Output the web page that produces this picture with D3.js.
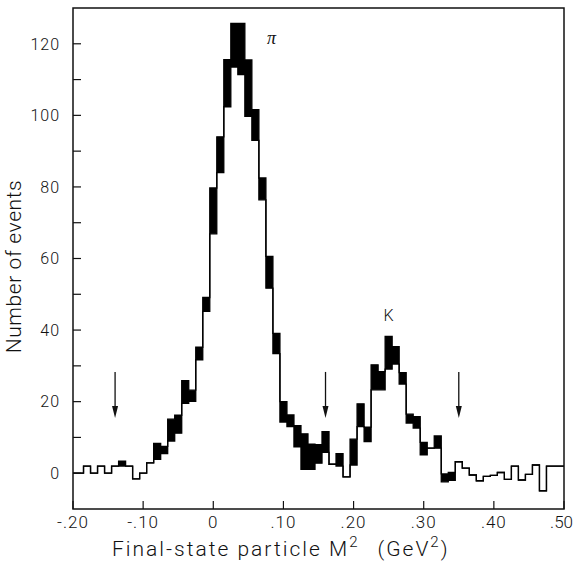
<!DOCTYPE html>
<html>
<head>
<meta charset="utf-8">
<script src="https://cdn.jsdelivr.net/npm/d3@7/dist/d3.min.js"></script>
<style>
  body { margin: 0; background: #fff; }
  text { font-family: Roboto, "Liberation Sans", sans-serif; font-weight: 300; fill: #111; }
</style>
</head>
<body>
<div id="chart"></div>
<script>
// bin centres (GeV^2), one per 0.01 bin
const binCenters = [-0.20, -0.19, -0.18, -0.17, -0.16, -0.15, -0.14, -0.13, -0.12, -0.11,
  -0.10, -0.09, -0.08, -0.07, -0.06, -0.05, -0.04, -0.03, -0.02, -0.01,
  0.00, 0.01, 0.02, 0.03, 0.04, 0.05, 0.06, 0.07, 0.08, 0.09,
  0.10, 0.11, 0.12, 0.13, 0.14, 0.15, 0.16, 0.17, 0.18, 0.19,
  0.20, 0.21, 0.22, 0.23, 0.24, 0.25, 0.26, 0.27, 0.28, 0.29,
  0.30, 0.31, 0.32, 0.33, 0.34, 0.35, 0.36, 0.37, 0.38, 0.39,
  0.40, 0.41, 0.42, 0.43, 0.44, 0.45, 0.46, 0.47, 0.48, 0.49, 0.50];

// lower histogram
const lowCounts = [0, 0, 2, 0, 2, 0, 2, 2, 2, -1.6,
  0, 2.9, 3.9, 5.5, 9, 11.2, 19.5, 20.1, 31.7, 45.2,
  66.9, 84, 102.4, 113.5, 111.4, 99.7, 93, 76.4, 51.7, 33.4,
  14.3, 13, 7.4, 1.1, 1.1, 2.8, 5.8, 2.5, 2, -1,
  2.3, 13, 8.8, 23.3, 23.3, 29.1, 30.5, 24.9, 14, 12.6,
  5.1, 7, 7, -2.4, -2, 3.2, 1.4, -0.5, -2.1, -0.9,
  -0.6, 0.2, -1.7, 2, -1.9, -0.3, 2.3, -4.9, 2, 2, 2];

// upper histogram
const highCounts = [0, 0, 2, 0, 2, 0, 2, 3.4, 2, -1.6,
  0, 2.9, 8.3, 7.5, 15.1, 16.2, 25.9, 23.2, 35.2, 49.1,
  79.7, 94, 115.6, 125.7, 125.7, 115.5, 101.6, 82.5, 60.6, 39.1,
  20, 16.3, 13.3, 11, 8.1, 8, 11.6, 2.5, 5.5, -1,
  9.5, 19.4, 12.9, 30.3, 28.4, 38.2, 35.4, 28.1, 16.5, 15.8,
  8.6, 7, 10.4, -0.2, 0.2, 3.2, 1.4, -0.5, -2.1, -0.9,
  -0.6, 0.2, -1.7, 2, -1.9, -0.3, 2.3, -4.9, 2, 2, 2];

const xTickValues = [-0.20, -0.10, 0.00, 0.10, 0.20, 0.30, 0.40, 0.50];
const xTickLabels = ["-.20", "-.10", "0", ".10", ".20", ".30", ".40", ".50"];
const yTickValues = [0, 20, 40, 60, 80, 100, 120];
const yMinorTicks = [10, 30, 50, 70, 90, 110];

const arrowPositions = [-0.14, 0.16, 0.35];
const arrowTop = 28.3, arrowTip = 15.4;

const peakLabels = [{text: "\u03c0", x: 0.083, y: 120, italic: true},
                    {text: "K", x: 0.25, y: 42.6, italic: false}];

const W = 574, H = 563;
const margin = {top: 8, right: 10, bottom: 54, left: 73};
const width = W - margin.left - margin.right;
const height = H - margin.top - margin.bottom;

const x = d3.scaleLinear().domain([-0.20, 0.50]).range([0, width]);
const y = d3.scaleLinear().domain([-10, 130]).range([height, 0]);

const svg = d3.select("#chart").append("svg")
    .attr("width", W).attr("height", H)
  .append("g")
    .attr("transform", "translate(" + margin.left + "," + margin.top + ")");

// step points: two per bin, clipped to the frame
const half = 0.005;
let steps = [];
binCenters.forEach((c, i) => {
  const x0 = Math.max(c - half, -0.20), x1 = Math.min(c + half, 0.50);
  steps.push({m: x0, lo: lowCounts[i], hi: highCounts[i]});
  steps.push({m: x1, lo: lowCounts[i], hi: highCounts[i]});
});

svg.append("path")
    .datum(steps)
    .attr("fill", "#000")
    .attr("d", d3.area().x(d => x(d.m)).y0(d => y(d.lo)).y1(d => y(d.hi)));

["lo", "hi"].forEach(k => {
  svg.append("path")
      .datum(steps)
      .attr("fill", "none")
      .attr("stroke", "#000")
      .attr("stroke-width", 1.3)
      .attr("d", d3.line().x(d => x(d.m)).y(d => y(d[k])));
});

// frame
svg.append("rect")
    .attr("x", 0).attr("y", 0)
    .attr("width", width).attr("height", height)
    .attr("fill", "none").attr("stroke", "#111").attr("stroke-width", 1.5);

// y ticks (inward)
svg.selectAll(".ytick")
  .data(yTickValues.concat(yMinorTicks))
  .enter().append("line")
    .attr("x1", 0).attr("x2", 8)
    .attr("y1", d => y(d)).attr("y2", d => y(d))
    .attr("stroke", "#111").attr("stroke-width", 1.2);

svg.selectAll(".ylab")
  .data(yTickValues)
  .enter().append("text")
    .attr("x", -13).attr("y", d => y(d))
    .attr("dy", "0.36em")
    .attr("text-anchor", "end")
    .style("font-size", "16px")
    .style("letter-spacing", "1px")
    .text(d => d);

// x ticks (inward)
svg.selectAll(".xtick")
  .data(xTickValues)
  .enter().append("line")
    .attr("x1", d => x(d)).attr("x2", d => x(d))
    .attr("y1", height).attr("y2", height - 8)
    .attr("stroke", "#111").attr("stroke-width", 1.2);

// last label pulled in so it stays on the page
const lastTick = xTickValues.length - 1;
svg.selectAll(".xlab")
  .data(xTickValues)
  .enter().append("text")
    .attr("x", (d, i) => i === lastTick ? width + 9 : x(d))
    .attr("y", height + 19)
    .attr("text-anchor", (d, i) => i === lastTick ? "end" : "middle")
    .style("font-size", "17px")
    .style("letter-spacing", (d, i) => i === lastTick ? "0px" : "1px")
    .text((d, i) => xTickLabels[i]);

// arrows
arrowPositions.forEach(a => {
  const ax = x(a), yt = y(arrowTop), yp = y(arrowTip);
  svg.append("line")
      .attr("x1", ax).attr("x2", ax).attr("y1", yt).attr("y2", yp - 8)
      .attr("stroke", "#111").attr("stroke-width", 1.3);
  svg.append("path")
      .attr("d", "M" + (ax - 3) + "," + (yp - 12) + "L" + (ax + 3) + "," + (yp - 12) + "L" + ax + "," + yp + "Z")
      .attr("fill", "#111");
});

// peak labels
peakLabels.forEach(p => {
  svg.append("text")
      .attr("x", x(p.x)).attr("y", y(p.y))
      .attr("text-anchor", "middle")
      .style("font-size", p.italic ? "18px" : "16px")
      .style("font-style", p.italic ? "italic" : "normal")
      .style("font-weight", p.italic ? "normal" : null)
      .style("font-family", p.italic ? "'Liberation Serif', serif" : null)
      .text(p.text);
});

// axis titles
svg.append("text")
    .attr("transform", "translate(" + (-52) + "," + (height / 2 + 8) + ") rotate(-90)")
    .attr("text-anchor", "middle")
    .style("font-size", "21px")
    .style("letter-spacing", "0.6px")
    .text("Number of events");

const xt = svg.append("text")
    .attr("x", 112 - margin.left).attr("y", height + 47)
    .style("font-size", "21px")
    .style("letter-spacing", "2px");
xt.append("tspan").text("Final-state particle M");
xt.append("tspan").attr("dy", -9).style("font-size", "15px").text("2");
xt.append("tspan").attr("dy", 9).attr("dx", 18).text("(GeV");
xt.append("tspan").attr("dy", -9).style("font-size", "15px").text("2");
xt.append("tspan").attr("dy", 9).text(")");
</script>
</body>
</html>
